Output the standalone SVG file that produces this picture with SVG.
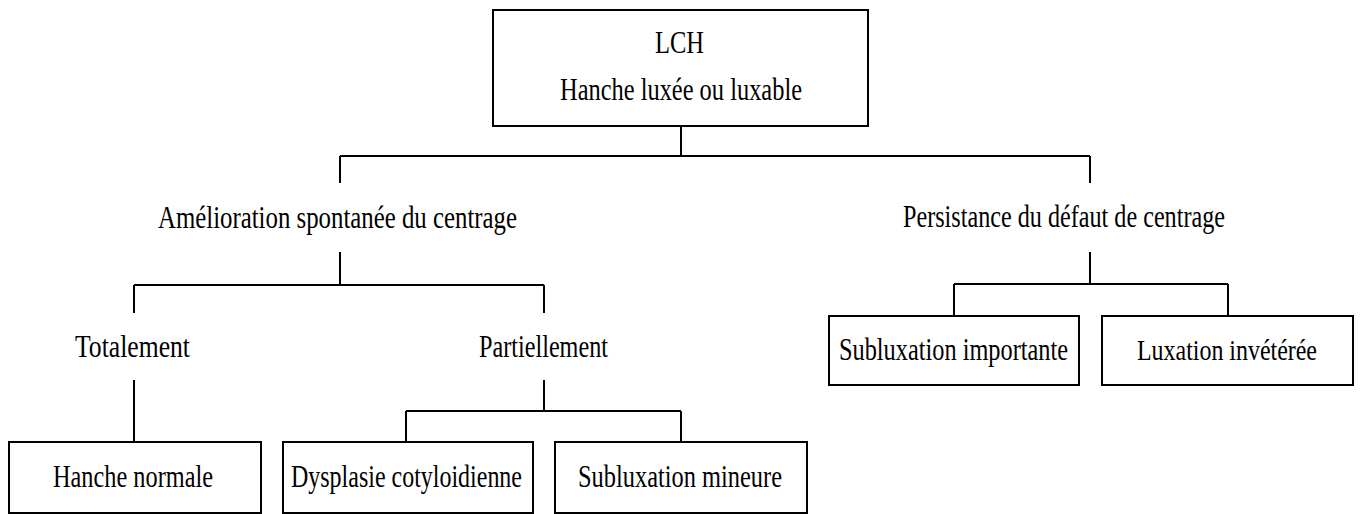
<svg xmlns="http://www.w3.org/2000/svg" width="1360" height="514" viewBox="0 0 1360 514">
<style>
.box{fill:#fff;stroke:#000;stroke-width:2}
.c{fill:none;stroke:#000;stroke-width:2}
text{font-family:"Liberation Serif","Times New Roman",serif;font-size:31px;fill:#000;text-anchor:middle}
</style>
<rect width="1360" height="514" fill="#fff"/>
<g id="connectors">
<path class="c" d="M681 126V156M340 156H1090M340 156V183M1090 156V183"/>
<path class="c" d="M340 252V285M134 285H544M134 285V313M544 285V313"/>
<path class="c" d="M134 380V442M544 380V411M406 411H681M406 411V442M681 411V442"/>
<path class="c" d="M1090 252V284M954 284H1228M954 284V316M1228 284V316"/>
</g>
<g id="n-lch">
<rect class="box" x="493" y="10" width="375" height="116"/>
<text x="679.5" y="53" textLength="49" lengthAdjust="spacingAndGlyphs">LCH</text>
<text x="681" y="100" textLength="242" lengthAdjust="spacingAndGlyphs">Hanche luxée ou luxable</text>
</g>
<g id="n-amelioration">
<text x="337.5" y="228" textLength="359" lengthAdjust="spacingAndGlyphs">Amélioration spontanée du centrage</text>
</g>
<g id="n-persistance">
<text x="1064" y="227" textLength="322" lengthAdjust="spacingAndGlyphs">Persistance du défaut de centrage</text>
</g>
<g id="n-totalement">
<text x="132.5" y="357" textLength="115" lengthAdjust="spacingAndGlyphs">Totalement</text>
</g>
<g id="n-partiellement">
<text x="543.5" y="357" textLength="129" lengthAdjust="spacingAndGlyphs">Partiellement</text>
</g>
<g id="n-hanche-normale">
<rect class="box" x="9" y="442" width="252" height="71"/>
<text x="133" y="487" textLength="160" lengthAdjust="spacingAndGlyphs">Hanche normale</text>
</g>
<g id="n-dysplasie">
<rect class="box" x="283" y="442" width="250" height="71"/>
<text x="406.5" y="487" textLength="231" lengthAdjust="spacingAndGlyphs">Dysplasie cotyloidienne</text>
</g>
<g id="n-sub-mineure">
<rect class="box" x="555" y="442" width="252" height="71"/>
<text x="680" y="487" textLength="204" lengthAdjust="spacingAndGlyphs">Subluxation mineure</text>
</g>
<g id="n-sub-importante">
<rect class="box" x="829" y="316" width="250" height="69"/>
<text x="953.5" y="360" textLength="229" lengthAdjust="spacingAndGlyphs">Subluxation importante</text>
</g>
<g id="n-luxation">
<rect class="box" x="1102" y="316" width="251" height="69"/>
<text x="1227" y="360" style="font-size:29px" textLength="180" lengthAdjust="spacingAndGlyphs">Luxation invétérée</text>
</g>
</svg>
